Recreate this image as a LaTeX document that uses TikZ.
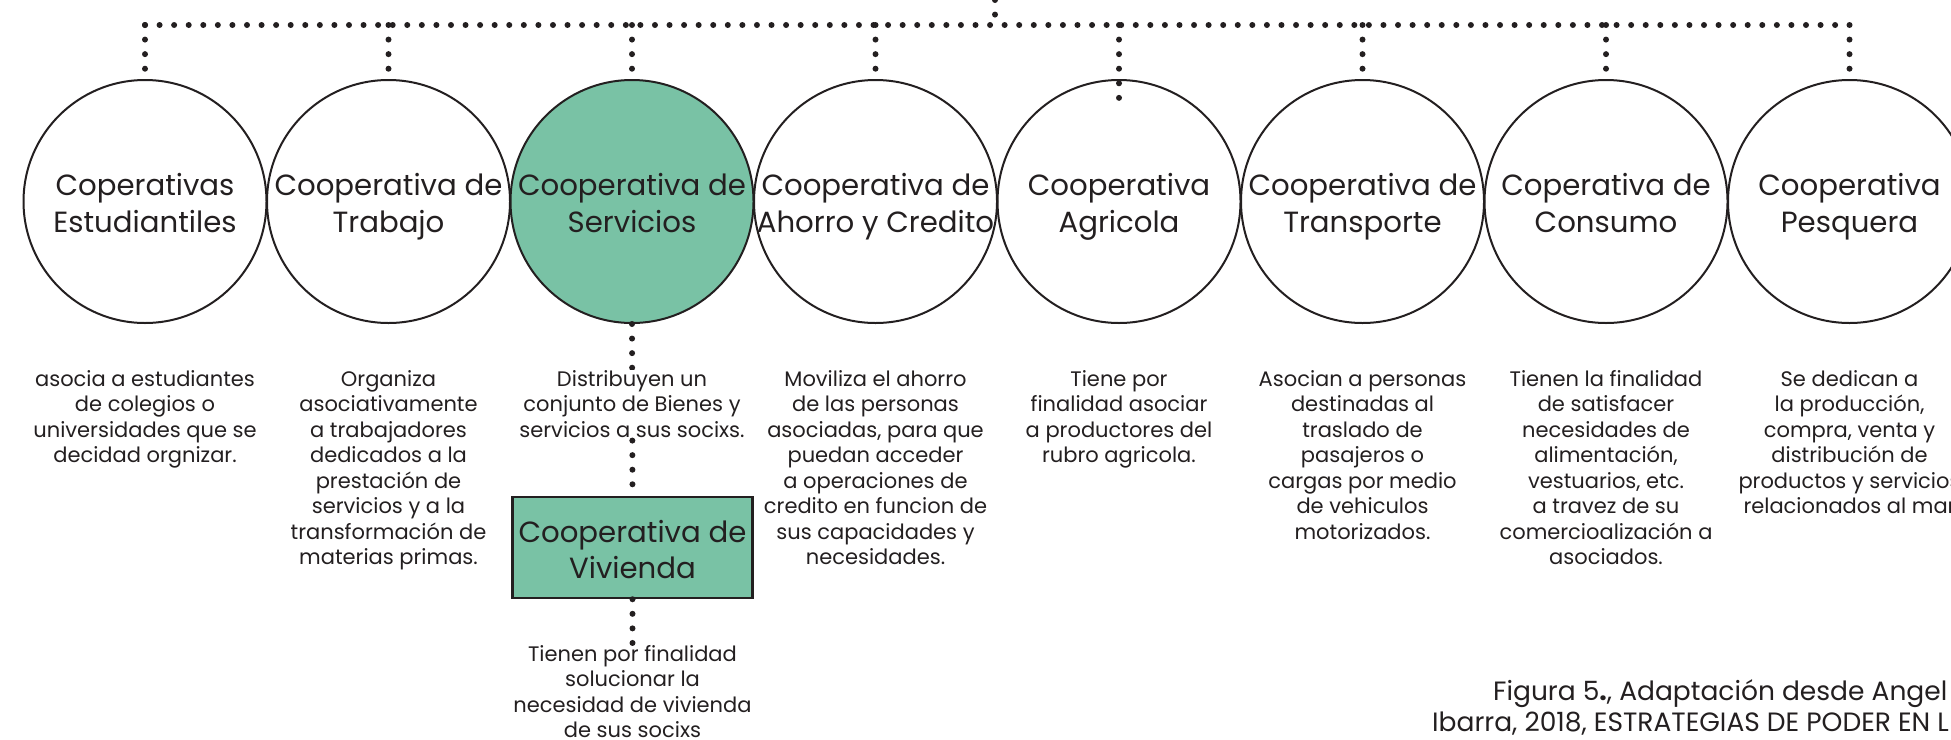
\documentclass[tikz,border=0pt]{standalone}
\usepackage{fontspec}
\setmainfont{Poppins}
\definecolor{coopgreen}{HTML}{79C2A5}
\definecolor{ink}{HTML}{231F20}
\begin{document}
\begin{tikzpicture}[x=1pt,y=-1pt,
  coop/.style={circle,draw=ink,line width=2pt,minimum size=243pt,inner sep=0pt},
  house/.style={draw=ink,line width=2.5pt,fill=coopgreen,minimum width=240pt,minimum height=101pt,inner sep=0pt},
  lbl/.style={anchor=north,align=center,inner sep=0pt,text=ink,font=\fontsize{29.2}{36.5}\selectfont},
  desc/.style={anchor=north,align=center,inner sep=0pt,text=ink,font=\fontsize{21}{25.5}\selectfont},
  caption/.style={anchor=base west,inner sep=0pt,text=ink,font=\fontsize{26.5}{32}\selectfont},
  dots/.style={ink,line width=6pt,line cap=round,dash pattern=on 0pt off 14.57pt}]
\useasboundingbox (0,0) rectangle (1951,739);
\clip (0,0) rectangle (1951,739);
\node[coop] (c1) at (145,201.5) {};
\node[coop] (c2) at (388.5,201.5) {};
\node[coop,fill=coopgreen] (c3) at (632,201.5) {};
\node[coop] (c4) at (875.5,201.5) {};
\node[coop] (c5) at (1119,201.5) {};
\node[coop] (c6) at (1362.5,201.5) {};
\node[coop] (c7) at (1606,201.5) {};
\node[coop] (c8) at (1849.5,201.5) {};
\node[lbl] (l1) at (145,173.5) {Coperativas\\Estudiantiles};
\node[lbl] (l2) at (388.5,173.5) {Cooperativa de\\Trabajo};
\node[lbl] (l3) at (632,173.5) {Cooperativa de\\Servicios};
\node[lbl] (l4) at (875.5,173.5) {Cooperativa de\\Ahorro y Credito};
\node[lbl] (l5) at (1119,173.5) {Cooperativa\\Agricola};
\node[lbl] (l6) at (1362.5,173.5) {Cooperativa de\\Transporte};
\node[lbl] (l7) at (1606,173.5) {Coperativa de\\Consumo};
\node[lbl] (l8) at (1849.5,173.5) {Cooperativa\\Pesquera};
\coordinate (top) at (995,0);
\coordinate (tl) at (145,25);
\coordinate (tm) at (995,25);
\coordinate (tr) at (1849.5,25);
\draw[dots] (top) -- (tm);
\draw[dots] (tl) -- (tr);
\foreach \i in {1,2,3,4,6,7,8}
  \draw[dots] (c\i.north |- tl) -- (c\i.north);
\draw[dots] (c5.north |- tl) -- ([yshift=-20pt]c5.north);
\node[desc] (d1) at (145,370) {asocia a estudiantes\\de colegios o\\universidades que se\\decidad orgnizar.};
\node[desc] (d2) at (388.5,370) {Organiza\\asociativamente\\a trabajadores\\dedicados a la\\prestación de\\servicios y a la\\transformación de\\materias primas.};
\node[house] (viv) at (632.5,547.5) {};
\node[lbl] (lv) at (632.5,520) {Cooperativa de\\Vivienda};
\draw[dots] (c3.south) -- (viv.north);
\node[desc,fill=white] (d3) at (632,370) {Distribuyen un\\conjunto de Bienes y\\servicios a sus socixs.};
\node[desc] (dv) at (632.5,645) {Tienen por finalidad\\solucionar la\\necesidad de vivienda\\de sus socixs};
\draw[dots] (viv.south) -- (dv.north);
\node[desc] (d4) at (875.5,370) {Moviliza el ahorro\\de las personas\\asociadas, para que\\puedan acceder\\a operaciones de\\credito en funcion de\\sus capacidades y\\necesidades.};
\node[desc] (d5) at (1119,370) {Tiene por\\finalidad asociar\\a productores del\\rubro agricola.};
\node[desc] (d6) at (1362.5,370) {Asocian a personas\\destinadas al\\traslado de\\pasajeros o\\cargas por medio\\de vehiculos\\motorizados.};
\node[desc] (d7) at (1606,370) {Tienen la finalidad\\de satisfacer\\necesidades de\\alimentación,\\vestuarios, etc.\\a travez de su\\comercioalización a\\asociados.};
\node[desc] (d8) at (1849.5,370) {Se dedican a\\la producción,\\compra, venta y\\distribución de\\productos y servicios\\relacionados al mar};
\node[caption] (cap1) at (1493,700) {Figura 5\textbf{.}, Adaptación desde Angel};
\node[caption] (cap2) at (1432,731) {Ibarra, 2018, ESTRATEGIAS DE PODER EN L};
\end{tikzpicture}
\end{document}
